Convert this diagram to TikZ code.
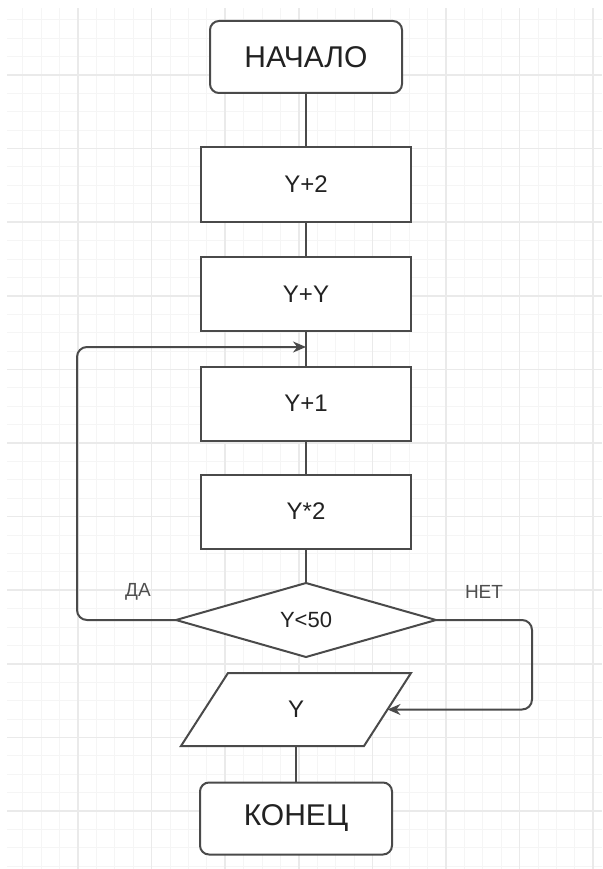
\documentclass[tikz,border=0pt]{standalone}
\usepackage{fontspec}
\setmainfont{Liberation Sans}
\usetikzlibrary{shapes.geometric,arrows.meta}
\definecolor{lineclr}{HTML}{4A4A4A}
\definecolor{txtclr}{HTML}{222222}
\definecolor{gridmin}{HTML}{F5F5F5}
\definecolor{gridmaj}{HTML}{EAEAEA}
\pgfdeclarelayer{grid}
\pgfdeclarelayer{shape}
\pgfsetlayers{grid,shape,main}

\begin{document}
\begin{tikzpicture}[x=1pt, y=-1pt, >={Stealth[length=13pt,width=11pt]},
    blk/.style={draw=lineclr, line width=2pt, fill=white, text=txtclr,
      minimum width=210pt, minimum height=74pt, inner sep=0pt, outer sep=0pt,
      font=\fontsize{24}{24}\selectfont},
    term/.style={blk, rounded corners=9pt, minimum width=192pt, minimum height=72pt,
      font=\fontsize{30}{30}\selectfont},
    cond/.style={blk, diamond, minimum width=260pt, minimum height=74pt,
      font=\fontsize{22}{22}\selectfont},
    io/.style={text=txtclr, minimum width=183pt, minimum height=73pt, inner sep=0pt,
      outer sep=0pt, font=\fontsize{24}{24}\selectfont},
    lbl/.style={text=txtclr!80, font=\fontsize{19}{19}\selectfont},
    conn/.style={draw=lineclr, line width=2pt}]
    \useasboundingbox (0,0) rectangle (602,869);
    % background grid
    \begin{pgfonlayer}{grid}
      \clip (7,9) rectangle (602,869);
      \foreach \k in {0,...,32} \draw[gridmin, line width=1pt] ({4.4+18.4*\k},0) -- ({4.4+18.4*\k},869);
      \foreach \k in {0,...,47} \draw[gridmin, line width=1pt] (0,{1.4+18.4*\k}) -- (602,{1.4+18.4*\k});
      \foreach \k in {0,4,...,32} \draw[gridmaj, line width=1.5pt] ({4.4+18.4*\k},0) -- ({4.4+18.4*\k},869);
      \foreach \k in {0,4,...,44} \draw[gridmaj, line width=1.5pt] (0,{1.4+18.4*\k}) -- (602,{1.4+18.4*\k});
    \end{pgfonlayer}
    % blocks
    \node[term] (start) at (306,57) {НАЧАЛО};
    \node[blk] (addtwo) at (306,184.5) {Y+2};
    \node[blk] (double) at (306,294) {Y+Y};
    \node[blk] (addone) at (306,403.5) {Y+1};
    \node[blk] (mult) at (306,511.5) {Y*2};
    \node[cond] (test) at (306,620) {Y<50};
    \node[io] (out) at (296,709.5) {Y};
    \node[term] (stop) at (296,818.5) {КОНЕЦ};
    \node[lbl] (yes) at (138,592) {ДА};
    \node[lbl] (no) at (484,592) {НЕТ};
    % output parallelogram
    \begin{pgfonlayer}{shape}
      \draw[conn, fill=white, line join=miter] ([xshift=23.5pt]out.north west) -- ([xshift=23.5pt]out.north east)
        -- ([xshift=-23.5pt]out.south east) -- ([xshift=-23.5pt]out.south west) -- cycle;
    \end{pgfonlayer}
    \coordinate (join) at (306,347);
    \coordinate (yesturn) at (77,347);
    \coordinate (noturn) at (532,620);
    % connectors
    \draw[conn] (start) -- (addtwo);
    \draw[conn] (addtwo) -- (double);
    \draw[conn] (double) -- (addone);
    \draw[conn] (addone) -- (mult);
    \draw[conn] (mult) -- (test);
    \draw[conn] (out) -- (stop);
    \draw[conn, ->, rounded corners=10pt] (test.west) -| (yesturn) -- (join);
    \draw[conn, ->, rounded corners=10pt] (test.east) -- (noturn) |- (out.east);
\end{tikzpicture}
\end{document}
